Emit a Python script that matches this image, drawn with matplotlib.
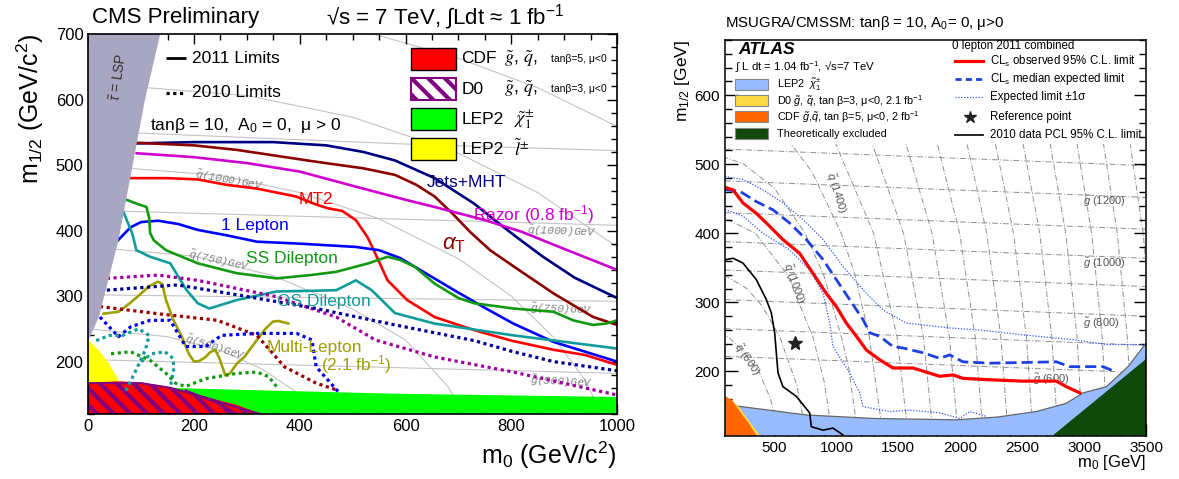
import matplotlib
matplotlib.use('Agg')
import matplotlib.pyplot as plt
from matplotlib.patches import Polygon, Rectangle
from matplotlib.ticker import MultipleLocator

plt.rcParams['font.family'] = ['Liberation Sans', 'DejaVu Sans']
plt.rcParams['mathtext.fontset'] = 'custom'
plt.rcParams['mathtext.rm'] = 'Liberation Sans'
plt.rcParams['mathtext.it'] = 'Liberation Sans:italic'
plt.rcParams['mathtext.bf'] = 'Liberation Sans:bold'
plt.rcParams['mathtext.sf'] = 'Liberation Sans'
plt.rcParams['hatch.linewidth'] = 3.0

# ---------------- CMS (left) data ----------------
cms_jets_m0 = [91, 200, 350, 450, 520, 580, 655, 730, 770, 810, 860, 920, 1000]
cms_jets_m12 = [533, 535, 535, 530, 520, 507, 480, 441, 415, 390, 360, 328, 297]
cms_at_m0 = [91, 200, 282, 431, 520, 580, 620, 655, 690, 722, 760, 805, 880, 955, 1000]
cms_at_m12 = [534, 530, 523, 505, 495, 485, 470, 452, 425, 398, 370, 345, 304, 268, 256]
cms_razor_m0 = [91, 200, 300, 400, 506, 600, 655, 750, 820, 900, 1000]
cms_razor_m12 = [518, 512, 503, 490, 467, 447, 436, 416, 398, 372, 340]
cms_mt2_m0 = [80, 150, 207, 260, 319, 393, 430, 453, 480, 506, 528, 540, 566, 603, 655, 730, 800, 880, 940, 1000]
cms_mt2_m12 = [480, 480, 478, 470, 464, 452, 440, 434, 430, 416, 390, 370, 324, 294, 268, 248, 232, 218, 210, 195]
cms_1l_m0 = [50, 80, 100, 132, 170, 207, 260, 319, 400, 506, 550, 590, 617, 692, 750, 804, 880, 940, 1000]
cms_1l_m12 = [380, 405, 413, 415, 410, 401, 393, 383, 380, 375, 370, 358, 345, 309, 282, 258, 230, 215, 200]
cms_ss_m0 = [72, 95, 110, 115, 117, 124, 147, 207, 280, 356, 420, 469, 530, 566, 590, 617, 655, 700, 730, 804, 880, 917, 954, 980, 1000]
cms_ss_m12 = [447, 440, 436, 420, 396, 385, 370, 350, 335, 327, 332, 337, 350, 360, 355, 345, 319, 297, 289, 281, 276, 263, 256, 258, 263]
cms_os_m0 = [65, 83, 91, 117, 155, 185, 207, 229, 281, 356, 420, 469, 506, 536, 580, 655, 804, 1000]
cms_os_m12 = [431, 396, 370, 360, 350, 310, 289, 281, 294, 307, 308, 309, 324, 309, 274, 258, 240, 220]
cms_ml_m0 = [28, 57, 80, 100, 115, 132, 140, 147, 160, 177, 190, 200, 210, 222, 230, 240, 248, 259, 268, 281, 295, 319, 335, 349, 360, 379]
cms_ml_m12 = [273, 276, 290, 304, 315, 322, 318, 294, 265, 238, 212, 200, 201, 207, 214, 218, 205, 179, 182, 197, 207, 233, 250, 261, 262, 258]

cms10_razor_m0 = [35, 132, 207, 356, 469, 543, 655, 804, 1000]
cms10_razor_m12 = [327, 332, 324, 299, 268, 233, 207, 184, 149]
cms10_jets_m0 = [35, 169, 281, 431, 580, 730, 804, 880, 1000]
cms10_jets_m12 = [309, 317, 302, 281, 256, 232, 215, 200, 186]
cms10_at_m0 = [22, 132, 244, 319, 371, 431, 469]
cms10_at_m12 = [284, 273, 263, 240, 192, 167, 157]
cms10_1l_m0 = [22, 57, 80, 117, 155, 184, 222, 252, 319, 394, 423, 431, 476]
cms10_1l_m12 = [268, 238, 253, 263, 263, 223, 223, 240, 243, 243, 233, 192, 151]
cms10_os_a_m0 = [15, 40, 65, 95, 115, 108, 95, 80, 70]
cms10_os_a_m12 = [232, 240, 240, 250, 240, 218, 195, 170, 155]
cms10_os_b_m0 = [100, 120, 145, 160, 162, 155]
cms10_os_b_m12 = [200, 212, 215, 205, 190, 160]
cms10_ss_m0 = [43, 80, 117, 147, 165, 184, 222, 281, 319, 341, 356]
cms10_ss_m12 = [212, 215, 202, 182, 167, 162, 174, 182, 184, 177, 162]

cms_stau_m0 = [0, 20, 57, 107, 136, 0]
cms_stau_m12 = [232, 268, 385, 599, 700, 700]
cms_slep_m0 = [0, 0, 20, 39, 54, 60, 60]
cms_slep_m12 = [120, 233, 217, 197, 177, 160, 120]
cms_cdf_m0 = [0, 0, 60, 100, 147, 207, 281, 326]
cms_cdf_m12 = [120, 168, 170, 168, 162, 149, 134, 120]
cms_d0_m0 = [0, 0, 100, 155, 230, 290, 326]
cms_d0_m12 = [120, 167, 167, 160, 143, 128, 120]
cms_lep_m0 = [100, 100, 147, 281, 580, 1000, 1000]
cms_lep_m12 = [120, 161, 160, 157, 151, 146, 120]

cms_gluino_lines = {500: ([0, 1000], [203, 182]),
                    750: ([0, 1000], [302, 292]),
                    1000: ([0, 1000], [431, 408]),
                    1250: ([0, 600, 1000], [552, 532, 522])}
cms_squark_lines = {500: ([0, 150, 250, 330, 400, 439], [250, 238, 217, 188, 150, 120]),
                    750: ([0, 200, 350, 500, 600, 680, 711], [375, 361, 331, 280, 233, 162, 120]),
                    1000: ([0, 250, 400, 550, 700, 800, 880, 940, 971], [500, 484, 458, 418, 357, 300, 237, 171, 120]),
                    1250: ([0, 300, 500, 700, 850, 1000], [625, 606, 573, 518, 458, 375]),
                    1500: ([539, 700, 850, 1000], [700, 663, 618, 559])}

# ---------------- ATLAS (right) data ----------------
atl_obs_m0 = [100, 111, 165, 245, 353, 434, 568, 703, 811, 918, 999, 1080, 1161, 1242, 1349, 1457, 1619, 1834, 1942, 2022, 2238, 2507, 2776, 2857, 2965]
atl_obs_m12 = [466, 466, 463, 444, 429, 415, 391, 371, 342, 313, 294, 270, 251, 231, 217, 205, 205, 193, 195, 190, 188, 186, 186, 178, 169]
atl_exp_m0 = [100, 111, 219, 353, 488, 622, 757, 892, 999, 1107, 1215, 1269, 1349, 1457, 1538, 1700, 1834, 1915, 2022, 2238, 2507, 2776, 2884, 3153, 3247]
atl_exp_m12 = [463, 463, 461, 446, 434, 415, 391, 362, 333, 304, 275, 256, 251, 236, 234, 227, 219, 224, 214, 212, 213, 214, 207, 207, 200]
atl_up_m0 = [100, 111, 245, 407, 568, 730, 892, 1053, 1242, 1376, 1565, 1915, 2157, 2507, 2911, 3180, 3476]
atl_up_m12 = [482, 482, 478, 463, 444, 420, 391, 352, 313, 289, 270, 263, 260, 253, 246, 239, 239]
atl_dn_m0 = [100, 111, 245, 407, 622, 784, 892, 946, 972, 1107, 1188, 1215, 1430, 1592, 1834, 1996, 2076, 2211]
atl_dn_m12 = [434, 434, 425, 400, 376, 347, 313, 270, 236, 198, 169, 149, 142, 144, 140, 132, 142, 135]
atl_2010_m0 = [100, 111, 165, 245, 353, 434, 474, 501, 528, 568, 676, 784, 797, 892, 972, 1053]
atl_2010_m12 = [362, 362, 364, 357, 333, 304, 285, 256, 198, 178, 164, 140, 120, 115, 118, 108]
atl_ref_m0 = [663]
atl_ref_m12 = [241]

atl_lep_m0 = [100, 100, 157, 194, 757, 1300, 1969, 2300, 2615, 2857, 2992, 3180, 3355, 3500, 3500]
atl_lep_m12 = [107, 155, 152, 150, 137, 132, 130, 134, 142, 154, 169, 178, 207, 241, 107]
atl_theo_m0 = [2745, 3500, 3500]
atl_theo_m12 = [107, 218, 107]
atl_d0_m0 = [100, 100, 160, 221, 275, 329, 383]
atl_d0_m12 = [107, 165, 158, 147, 133, 120, 107]
atl_cdf_m0 = [100, 100, 154, 194, 240, 288, 356]
atl_cdf_m12 = [107, 164, 159, 149, 137, 126, 107]

atl_gluino_mass = [600, 700, 800, 900, 1000, 1100, 1200, 1300, 1400, 1500, 1600]
atl_gluino_m12_left = [222, 262, 304, 347, 388, 430, 476, 522, 566, 610, 654]
atl_gluino_m12_right = [198, 238, 280, 323, 364, 406, 452, 498, 542, 586, 630]
atl_squark_lines = {
    600: ([545, 468, 374, 233, 126, 100], [107, 160, 200, 232, 250, 251]),
    800: ([759, 680, 543, 400, 277, 110], [107, 180, 250, 295, 320, 338]),
    1000: ([968, 900, 810, 603, 346, 100], [107, 186, 250, 340, 400, 422]),
    1200: ([1174, 1100, 1040, 900, 748, 500, 255, 100], [107, 204, 250, 338, 400, 465, 500, 510]),
    1400: ([1377, 1265, 1150, 1039, 800, 544, 300, 100], [107, 250, 340, 400, 490, 550, 583, 593]),
    1600: ([1580, 1490, 1301, 946, 600, 130], [107, 250, 400, 550, 632, 680]),
    1800: ([1782, 1702, 1542, 1250, 833], [107, 250, 400, 550, 680]),
    2000: ([1984, 1912, 1772, 1528, 1207], [107, 250, 400, 550, 680]),
    2200: ([2186, 2121, 1995, 1786, 1516], [107, 250, 400, 550, 680]),
    2400: ([2387, 2328, 2214, 2029, 1794], [107, 250, 400, 550, 680]),
    2600: ([2588, 2534, 2430, 2261, 2052], [107, 250, 400, 550, 680]),
    2800: ([2789, 2739, 2642, 2486, 2293], [107, 250, 400, 550, 680]),
    3000: ([2989, 2943, 2852, 2706, 2526], [107, 250, 400, 550, 680]),
    3200: ([3190, 3146, 3061, 2924, 2755], [107, 250, 400, 550, 680]),
    3400: ([3391, 3349, 3268, 3139, 2980], [107, 250, 400, 550, 680]),
    3600: ([3591, 3552, 3477, 3355, 3201], [107, 250, 400, 550, 680]),
}

# ---------------- figure ----------------
W, H = 1179, 479
fig = plt.figure(figsize=(W / 100, H / 100), dpi=100)


def fax(l, t, r, b):
    return fig.add_axes([l / W, 1 - b / H, (r - l) / W, (b - t) / H])


def fig_text(px, py, s, **kw):
    fig.text(px / W, 1 - py / H, s, **kw)


ax1 = fax(88.3, 34, 617, 414)
ax2 = fax(725, 40, 1146, 435.7)

# ======== CMS ========
ax = ax1
ax.set_xlim(0, 1000)
ax.set_ylim(120, 700)
for m, (xs, ys) in cms_gluino_lines.items():
    ax.plot(xs, ys, color='#c4c4c4', lw=0.8, zorder=1)
for m, (xs, ys) in cms_squark_lines.items():
    ax.plot(xs, ys, color='#c4c4c4', lw=0.8, zorder=1)

ax.add_patch(Polygon(list(zip(cms_lep_m0, cms_lep_m12)), closed=True, fc='#00ff00', ec='none', zorder=2))
ax.add_patch(Polygon(list(zip(cms_slep_m0, cms_slep_m12)), closed=True, fc='#ffff00', ec='none', zorder=3))
ax.add_patch(Polygon(list(zip(cms_cdf_m0, cms_cdf_m12)), closed=True, fc='#ff0000', ec='none', zorder=3))
ax.add_patch(Polygon(list(zip(cms_d0_m0, cms_d0_m12)), closed=True, fill=False, hatch='\\\\',
                     ec='#800080', lw=1.5, zorder=4))
ax.plot([184, 240, 281], [156, 138, 121], color='#800080', lw=1.5, zorder=4)

solid = dict(lw=1.9, solid_capstyle='round', solid_joinstyle='round', zorder=5)
ax.plot(cms_jets_m0, cms_jets_m12, color='#000080', **solid)
ax.plot(cms_at_m0, cms_at_m12, color='#8b0000', **solid)
ax.plot(cms_razor_m0, cms_razor_m12, color='#d000d0', **solid)
ax.plot(cms_mt2_m0, cms_mt2_m12, color='#ff0000', **solid)
ax.plot(cms_1l_m0, cms_1l_m12, color='#0000ff', **solid)
ax.plot(cms_ss_m0, cms_ss_m12, color='#119911', **solid)
ax.plot(cms_os_m0, cms_os_m12, color='#119c9c', **solid)
ax.plot(cms_ml_m0, cms_ml_m12, color='#a0a000', **solid)

dot = dict(lw=2.3, linestyle=(0, (1.0, 1.1)), zorder=5)
ax.plot(cms10_razor_m0, cms10_razor_m12, color='#a000a0', **dot)
ax.plot(cms10_jets_m0, cms10_jets_m12, color='#000099', **dot)
ax.plot(cms10_at_m0, cms10_at_m12, color='#990000', **dot)
ax.plot(cms10_1l_m0, cms10_1l_m12, color='#0000ff', **dot)
ax.plot(cms10_os_a_m0, cms10_os_a_m12, color='#119c9c', **dot)
ax.plot(cms10_os_b_m0, cms10_os_b_m12, color='#119c9c', **dot)
ax.plot(cms10_ss_m0, cms10_ss_m12, color='#119911', **dot)

ax.add_patch(Polygon(list(zip(cms_stau_m0, cms_stau_m12)), closed=True, fc='#a9a6c2', ec='none', zorder=6))
ax.text(58, 634, r"$\tilde{\tau}$ = LSP", rotation=82, color='#333333', fontsize=10,
        ha='center', va='center', zorder=7)

# curve labels
ax.text(715, 474, "Jets+MHT", color='#000080', fontsize=12.5, ha='center', va='center', zorder=7)
ax.text(431, 448, "MT2", color='#ff0000', fontsize=12.5, ha='center', va='center', zorder=7)
ax.text(842, 424, r"Razor (0.8 fb$^{-1}$)", color='#d000d0', fontsize=12.5, ha='center', va='center', zorder=7)
ax.text(315, 407, "1 Lepton", color='#0000ff', fontsize=12.5, ha='center', va='center', zorder=7)
ax.text(692, 378, r"$\alpha_{\rm T}$", color='#8b0000', fontsize=16, ha='center', va='center', zorder=7)
ax.text(386, 357, "SS Dilepton", color='#119911', fontsize=12.5, ha='center', va='center', zorder=7)
ax.text(446, 291, "OS Dilepton", color='#119c9c', fontsize=12.5, ha='center', va='center', zorder=7)
ax.text(427, 222, "Multi-Lepton", color='#a0a000', fontsize=12.5, ha='center', va='center', zorder=7)
ax.text(506, 195, r"(2.1 fb$^{-1}$)", color='#a0a000', fontsize=12.5, ha='center', va='center', zorder=7)

mono = dict(family='Liberation Mono', style='italic', color='#808080', fontsize=8, ha='center',
            va='center', zorder=2)
ax.text(267, 476, r"$\tilde{q}$(1000)GeV", rotation=-10, **mono)
ax.text(248, 354, r"$\tilde{q}$(750)GeV", rotation=-12, **mono)
ax.text(240, 221, r"$\tilde{q}$(500)GeV", rotation=-17, **mono)
ax.text(895, 398, r"$\tilde{g}$(1000)GeV", rotation=-2, **mono)
ax.text(895, 279, r"$\tilde{g}$(750)GeV", rotation=-2, **mono)
ax.text(895, 168, r"$\tilde{g}$(500)GeV", rotation=-3, **mono)

# legend (left)
ax.plot([147, 184], [663, 663], color='black', lw=2.0, zorder=7, solid_capstyle='butt')
ax.plot([147, 184], [610, 610], color='black', lw=2.3, linestyle=(0, (1.0, 1.1)), zorder=7)
ax.text(196, 663, "2011 Limits", fontsize=12.5, va='center', zorder=7)
ax.text(196, 610, "2010 Limits", fontsize=12.5, va='center', zorder=7)
ax.text(117, 561, r"tanβ = 10,  A$_0$ = 0,  μ > 0", fontsize=12.5, va='center', zorder=7)

# legend (right boxes)
boxes = [(645, 679, '#ff0000', None), (599, 633, 'white', '\\\\'), (553, 587, '#00ff00', None),
         (508, 541, '#ffff00', None)]
for y0, y1, fc, hatch in boxes:
    if hatch:
        ax.add_patch(Rectangle((610, y0), 86, y1 - y0, fc='white', ec='#800080', hatch=hatch, lw=1.5, zorder=7))
    else:
        ax.add_patch(Rectangle((610, y0), 86, y1 - y0, fc=fc, ec='black', lw=1.0, zorder=7))
ax.text(706, 662, "CDF", fontsize=12.5, va='center', zorder=7)
ax.text(786, 662, r"$\tilde{g}$, $\tilde{q}$,", fontsize=13, va='center', math_fontfamily='stix', zorder=7)
ax.text(875, 662, "tanβ=5, μ<0", fontsize=7.5, va='center', zorder=7)
ax.text(706, 616, "D0", fontsize=12.5, va='center', zorder=7)
ax.text(786, 616, r"$\tilde{g}$, $\tilde{q}$,", fontsize=13, va='center', math_fontfamily='stix', zorder=7)
ax.text(875, 616, "tanβ=3, μ<0", fontsize=7.5, va='center', zorder=7)
ax.text(706, 570, "LEP2", fontsize=12.5, va='center', zorder=7)
ax.text(806, 570, r"$\tilde{\chi}^{\pm}_{1}$", fontsize=13, va='center', math_fontfamily='stix', zorder=7)
ax.text(706, 524, "LEP2", fontsize=12.5, va='center', zorder=7)
ax.text(806, 524, r"$\tilde{l}^{\pm}$", fontsize=13, va='center', math_fontfamily='stix', zorder=7)

ax.xaxis.set_major_locator(MultipleLocator(200))
ax.xaxis.set_minor_locator(MultipleLocator(50))
ax.yaxis.set_major_locator(MultipleLocator(100))
ax.yaxis.set_minor_locator(MultipleLocator(20))
ax.tick_params(which='both', direction='in', top=True, right=True, labelsize=12, width=1.0)
ax.tick_params(which='major', length=7)
ax.tick_params(which='minor', length=4)
for s in ax.spines.values():
    s.set_linewidth(1.2)
    s.set_zorder(10)

fig_text(92, 17, "CMS Preliminary", fontsize=16, va='center', ha='left')
fig_text(326, 17, r"√s = 7 TeV, ∫Ldt ≈ 1 fb$^{-1}$", fontsize=16, va='center', ha='left')
fig_text(30, 34, r"m$_{1/2}$ (GeV/c$^{2}$)", fontsize=18, rotation=90, ha='center', va='top')
fig_text(617, 455, r"m$_{0}$ (GeV/c$^{2}$)", fontsize=18, ha='right', va='center')

# ======== ATLAS ========
ax = ax2
ax.set_xlim(100, 3500)
ax.set_ylim(107, 680)
dd = dict(color='#8f8f8f', lw=0.7, linestyle=(0, (6, 2, 1, 2)), zorder=1)
for m, yl, yr in zip(atl_gluino_mass, atl_gluino_m12_left, atl_gluino_m12_right):
    ax.plot([100, 3500], [yl, yr], **dd)
for m, (xs, ys) in atl_squark_lines.items():
    ax.plot(xs, ys, **dd)
# white legend background hiding the contour grid at the top
ax.add_patch(Rectangle((100, 529), 3400, 160, fc='white', ec='none', zorder=1.5))

ax.add_patch(Polygon(list(zip(atl_lep_m0, atl_lep_m12)), closed=True, fc='#99bbff', ec='none', zorder=2))
ax.plot(atl_lep_m0[1:-1], atl_lep_m12[1:-1], color='#666666', lw=0.9, zorder=2)
ax.add_patch(Polygon(list(zip(atl_theo_m0, atl_theo_m12)), closed=True, fc='#0f4a0c', ec='none', zorder=3))
ax.add_patch(Polygon(list(zip(atl_d0_m0, atl_d0_m12)), closed=True, fc='#ffd944', ec='none', zorder=3))
ax.add_patch(Polygon(list(zip(atl_cdf_m0, atl_cdf_m12)), closed=True, fc='#ff6600', ec='none', zorder=3))

ax.plot(atl_up_m0, atl_up_m12, color='#3355ff', lw=0.9, linestyle=(0, (1, 1.3)), zorder=4)
ax.plot(atl_dn_m0, atl_dn_m12, color='#3355ff', lw=0.9, linestyle=(0, (1, 1.3)), zorder=4)
ax.plot(atl_2010_m0, atl_2010_m12, color='black', lw=1.2, zorder=4)
ax.plot(atl_exp_m0, atl_exp_m12, color='#1e40e0', lw=2.0, linestyle=(0, (4, 1.8)), zorder=5)
ax.plot(atl_obs_m0, atl_obs_m12, color='#ff0000', lw=2.3, solid_joinstyle='round', zorder=6)
ax.plot(atl_ref_m0, atl_ref_m12, marker='*', ms=10, color='#222222', ls='none', zorder=6)

lab = dict(color='#555555', fontsize=8, ha='center', va='center', zorder=2)
ax.text(3161, 446, r"$\tilde{g}$ (1200)", **lab)
ax.text(3161, 356, r"$\tilde{g}$ (1000)", **lab)
ax.text(3140, 270, r"$\tilde{g}$ (800)", **lab)
ax.text(2733, 189, r"$\tilde{g}$ (600)", **lab)
ax.text(997, 459, r"$\tilde{q}$ (1400)", rotation=-72, **lab)
ax.text(649, 328, r"$\tilde{q}$ (1000)", rotation=-70, **lab)
ax.text(272, 217, r"$\tilde{q}$ (600)", rotation=-55, **lab)

# ATLAS legend
ax.text(205, 666, "ATLAS", fontsize=12.5, fontweight='bold', style='italic', va='center', zorder=8)
ax.text(181, 641, r"∫ L dt = 1.04 fb$^{-1}$, √s=7 TeV", fontsize=8.2, va='center', zorder=8)
atl_boxes = [(607, '#99bbff', r"LEP2  $\tilde{\chi}^{\pm}_{1}$"),
             (584, '#ffd944', r"D0 $\tilde{g}$, $\tilde{q}$, tan β=3, μ<0, 2.1 fb$^{-1}$"),
             (561, '#ff6600', r"CDF $\tilde{g}$,$\tilde{q}$, tan β=5, μ<0, 2 fb$^{-1}$"),
             (536, '#0f4a0c', "Theoretically excluded")]
for y0, fc, txt in atl_boxes:
    ax.add_patch(Rectangle((181, y0), 266, 16, fc=fc, ec='#888888', lw=0.8, zorder=8))
    ax.text(520, y0 + 8, txt, fontsize=7.8, va='center', zorder=8)
ax.text(1934, 672, "0 lepton 2011 combined", fontsize=8.3, va='center', zorder=8)
ax.plot([1958, 2184], [649, 649], color='#ff0000', lw=2.3, zorder=8)
ax.plot([1958, 2184], [624, 624], color='#1e40e0', lw=2.0, linestyle=(0, (2.2, 1.5)), zorder=8)
ax.plot([1958, 2184], [597, 597], color='#3355ff', lw=0.9, linestyle=(0, (1, 1.3)), zorder=8)
ax.plot([2079], [569], marker='*', ms=9, color='#222222', zorder=8)
ax.plot([1958, 2184], [543, 543], color='black', lw=1.2, zorder=8)
for y, t in [(649, r"CL$_{\rm s}$ observed 95% C.L. limit"), (624, r"CL$_{\rm s}$ median expected limit"),
             (597, "Expected limit ±1σ"), (569, "Reference point"), (543, "2010 data PCL 95% C.L. limit")]:
    ax.text(2240, y, t, fontsize=8.3, va='center', zorder=8)

ax.xaxis.set_major_locator(MultipleLocator(500))
ax.xaxis.set_minor_locator(MultipleLocator(100))
ax.yaxis.set_major_locator(MultipleLocator(100))
ax.yaxis.set_minor_locator(MultipleLocator(20))
ax.set_xticks([500, 1000, 1500, 2000, 2500, 3000, 3500])
ax.tick_params(which='both', direction='in', top=False, right=True, labelsize=11, width=1.0)
ax.tick_params(which='major', length=9)
ax.tick_params(which='minor', length=5)
for s in ax.spines.values():
    s.set_linewidth(1.1)
    s.set_zorder(10)

fig_text(725, 23, r"MSUGRA/CMSSM: tanβ = 10, A$_0$= 0, μ>0", fontsize=10.8, ha='left', va='center')
fig_text(683, 40, r"m$_{1/2}$ [GeV]", fontsize=12.5, rotation=90, ha='center', va='top')
fig_text(1146, 463, r"m$_{0}$ [GeV]", fontsize=12, ha='right', va='center')

fig.savefig('out.png', dpi=100)
